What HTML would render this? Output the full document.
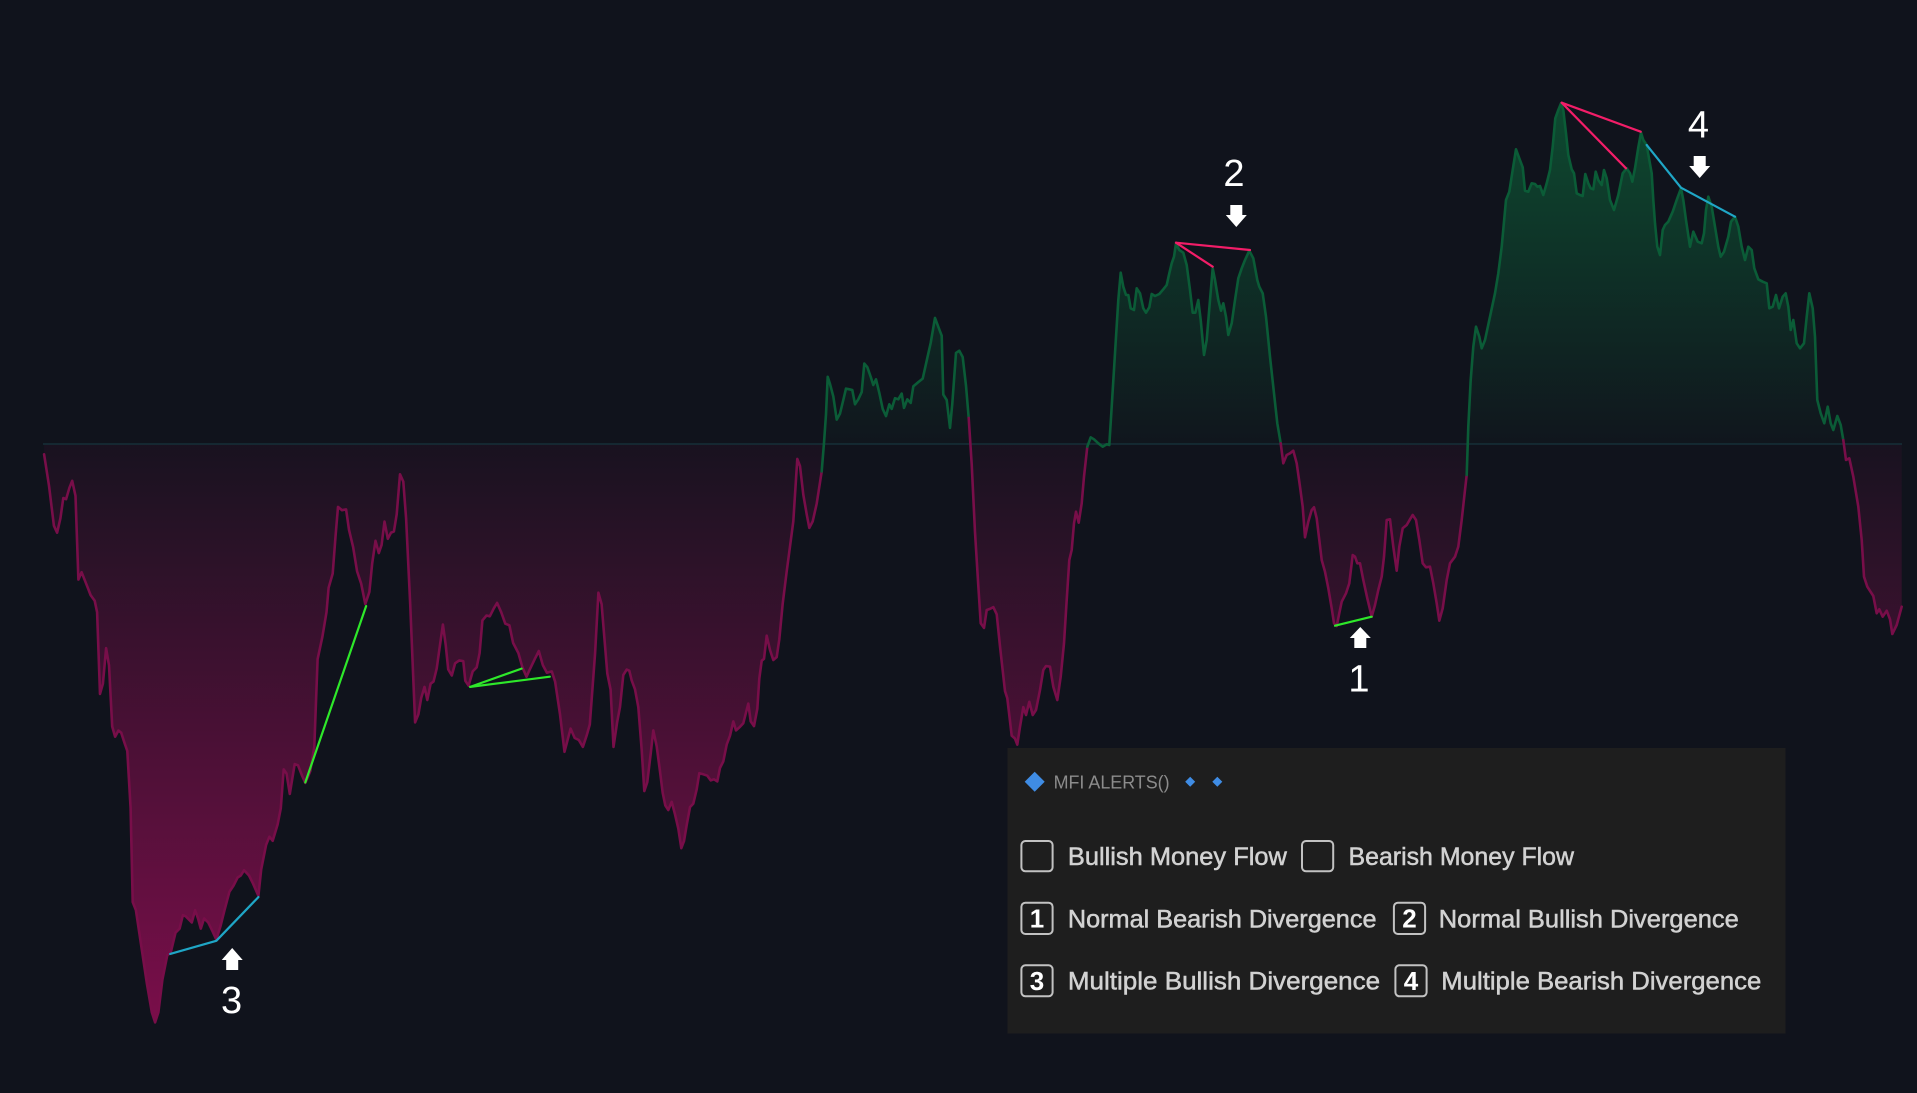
<!DOCTYPE html>
<html><head><meta charset="utf-8"><style>
html,body{margin:0;padding:0;background:#10131c;width:1917px;height:1093px;overflow:hidden}
svg{display:block}
</style></head><body>
<svg width="1917" height="1093" viewBox="0 0 1917 1093" xmlns="http://www.w3.org/2000/svg">
<defs>
<linearGradient id="pg" gradientUnits="userSpaceOnUse" x1="0" y1="444" x2="0" y2="1025">
<stop offset="0" stop-color="#7a0e4a" stop-opacity="0.08"/>
<stop offset="1" stop-color="#7a0e4a" stop-opacity="1"/>
</linearGradient>
<linearGradient id="gg" gradientUnits="userSpaceOnUse" x1="0" y1="444" x2="0" y2="103">
<stop offset="0" stop-color="#0d4a30" stop-opacity="0.05"/>
<stop offset="1" stop-color="#0d4a30" stop-opacity="1"/>
</linearGradient>
<clipPath id="below"><rect x="0" y="444" width="1917" height="649"/></clipPath>
<clipPath id="above"><rect x="0" y="0" width="1917" height="444"/></clipPath>
<path id="area" d="M44.1,444 L44.1,454.3 49,485.7 53.9,525.7 57.1,532.7 60.4,518.4 63.3,498 66.1,499.2 69.4,487.8 72.2,480.8 75.5,495.9 78.4,579.6 81.6,572.2 87.8,587.8 90.6,595.1 94.7,600.8 97.1,612.2 100,693.9 102.9,683.7 106.1,648.2 109,665.3 112.2,726.5 115.1,736.7 118.4,730.6 121.2,732.7 124.5,742.9 127.3,751 130.6,808.2 132.7,902 135.9,910.2 140.8,942.9 146.9,983.7 151.8,1012.2 155.1,1022.4 158.4,1012.2 162.4,979.6 167.3,955.1 170.6,953.1 175.5,932.7 179.6,928.6 182.9,915.1 185.7,916.3 191.8,922.4 195.1,910.2 198,918.4 200.8,928.6 204.1,918.4 208.2,922.4 212.2,930.6 216.3,939.6 220.4,926.5 224.5,910.2 229.4,891.8 233.5,885.7 237.6,877.6 240.8,875.5 244.1,870.2 249,875.5 253.1,883.7 258.4,895.9 261.2,869.4 266.1,844.9 269.4,836.7 272.7,840.8 277.6,824.5 280.8,808.2 283.7,769.4 286.5,773.5 289.8,793.9 294.7,764.1 298,765.3 302,775.5 305.3,782.9 310.2,771.4 314.3,746.9 317.6,659.2 322.4,636.7 326.5,612.2 328.6,587.8 332.7,573.5 335.5,536.7 338,506.9 342,510.2 346.1,509.4 349,529.8 353.1,546.9 357.1,571.4 361.2,583.7 365.3,604.1 369.4,591.8 372.2,563.3 375.5,540.8 378.8,553.1 381.6,544.9 384.5,521.6 387.8,538.8 391,532.7 393.9,531.4 396.7,514.3 400,474.3 403.3,481.6 406.1,518.4 410.2,604.1 415.1,722.4 418.4,714.3 421.2,698 424.5,686.9 427.3,700 430.6,683.7 433.5,681.6 436.7,668.6 440,644.9 442.9,624.5 445.7,644.9 448.2,669.4 451.8,675.5 455.1,663.3 459.2,660.4 463.3,661.2 465.3,680.8 468.6,685.7 472.7,671.4 476.7,667.3 479.6,653.1 482.4,620.4 486.5,615.5 489.8,616.3 493.9,608.2 497.1,602.9 501.2,612.2 505.3,623.7 509.4,625.3 513.1,642.9 518.4,653.1 522.4,667.3 526.5,676.7 529.8,669.4 534.7,659.2 538.8,651 542.9,665.3 546.9,672.7 551.8,671.4 555.1,681.6 560,714.3 564.5,751.8 570.6,728.6 574.7,738 578.8,740 582.9,746.9 586.9,734.7 589.8,724.5 595.1,653.1 598.4,592.7 601.6,604.1 607.3,673.5 610.6,689.8 613.5,746.9 617.1,722.4 620,707 623.3,675 626.7,669.6 629.3,670.7 631.7,680.4 635,689.3 638.3,707.1 641.7,750 644.3,791.1 647.3,782.1 650.7,753.6 653.3,730.4 656.7,746.4 660,771.4 662.7,792.9 665.3,805.4 668.3,810 671.7,801.8 675,814.3 678.3,828.6 681.3,848.2 684,841.1 686.7,825 690,807.1 693.3,803.6 696.7,789.3 699.3,773.2 703.3,774.3 707.3,775.7 710.7,780.4 714,779.3 717.3,781.4 720,767.9 723.3,761.4 726.7,744.6 730,735.7 733.3,721.4 736,730.4 740,726.8 743.3,723.2 748.3,703.6 750.7,721.4 754,726.1 757.3,708.9 759.3,678.6 761.7,660.7 764,658.9 766.7,635.7 770,650 773.3,660 776.7,657.1 779.3,639.3 782.7,603.6 786.7,571.4 790,546.4 793.3,521.4 797.3,458.9 800,466.1 803.3,494.6 806.7,514.3 809.3,527.9 812.7,521.4 816.7,503.6 821.7,471.4 824,442.9 826,414.3 827.7,376.8 830,383.9 833.3,396.4 836.7,419.6 840,413.6 843.3,400 846,388.6 849.3,389.3 852.3,390 855,404.3 858.3,399.3 861.7,392.1 864.3,363.6 867.3,367.1 870.7,376.8 873.3,385 876,379.3 879.3,392.9 882.7,408.9 886,416.1 889.3,404.3 891.7,408.9 895,398.2 898.3,399.3 901.7,393.6 904,407.9 907.3,399.3 910.7,402.9 913.3,386.4 918.3,382.1 922.7,378.6 926.7,360.7 930.7,342.9 935,317.9 938.3,326.8 941.7,335.7 943.3,394.6 946.7,400 950,427.9 952.3,403.6 956,352.9 959.3,350.7 962.7,357.1 966,385.7 968.7,417.9 971.7,464.3 975,532.1 978.3,585.7 980.7,623.2 984,627.9 986.7,610 990,608.9 993.3,607.1 996.7,614.3 1000,646.4 1005,691.1 1007.3,698.2 1011.7,735.7 1015,738.6 1017.3,744.6 1020,726.8 1023.3,707.1 1026,715 1029.3,701.8 1032.7,715 1036,710 1040,690 1043.3,670 1046,666 1050,666.7 1053.3,686.7 1057.3,700 1060.7,676.7 1064,643.3 1066.7,600 1069.3,560 1071.7,550 1074,523.3 1076,511.7 1078.7,522.7 1081.7,503.3 1084,476.7 1087.3,446.7 1090.7,437.3 1094,439.3 1098.3,443.3 1102.7,446.7 1106.7,444.3 1109.3,445 1111.7,406.7 1115,353.3 1118.3,300 1120.7,272.7 1123.3,286.7 1126,295 1128.3,295 1130.7,308.3 1134,310 1136.7,288.3 1140,293.3 1143.3,308.3 1146,312.7 1149.3,307.3 1151.7,294 1155,296 1159.3,294 1163.3,289.3 1166.7,285 1169.3,273.3 1171.7,263.3 1174,256.7 1176,243.3 1179.3,250 1183.3,252.7 1186.7,265 1190,290 1192.7,312.7 1195.3,312.7 1198.3,300 1200.7,320 1204,355 1206.7,340 1210,300 1212.7,268.3 1215,280 1218.3,300 1221,310.7 1223.3,303.3 1226,316.7 1228.3,335 1231.7,323.3 1235,300 1238.3,278.3 1241.7,268.3 1245,260 1249.3,250.7 1253.3,258.3 1257.3,280 1259.3,286.7 1262.7,293.3 1266,316.7 1270,356.7 1274,393.3 1277.3,423.3 1280.7,443.3 1283.3,463.3 1286.7,455 1290,453.3 1293.3,450.7 1296.7,463.3 1300,486.7 1302.7,506.7 1305,537.3 1308.3,521.7 1311.7,510 1314,507.3 1316.7,518.3 1319.3,540 1321.7,560 1325,571.7 1328.3,588.3 1331.7,608.3 1334,623.3 1336.7,626 1339.3,613.3 1341.7,601.7 1346,593.3 1349.3,583.3 1352.7,555 1355,556.7 1357.3,563.3 1360,563.3 1363.3,580 1367.3,598.3 1371.7,616.7 1375,605 1378.3,590 1381.7,576.7 1384,556.7 1386.7,520 1390,519.3 1393.3,546.7 1396.7,570.7 1399.3,546.7 1402.7,528.3 1406.7,525 1410,519.3 1412.7,515 1416,520 1419.3,540 1422.7,563.3 1426,567.3 1430,566.7 1433.3,583.3 1436.7,603.3 1439.3,620.7 1442.7,608.3 1446.7,580 1450,563.3 1455,556.7 1458.3,546.7 1461.7,520 1465,490 1466.7,475 1468.3,426.7 1470.7,380 1473.3,346.7 1476,326.7 1479.3,336.7 1481.7,348.3 1485,340 1490,316.7 1495,293.3 1498.3,273.3 1501.7,246.7 1506,200 1509.3,191.7 1512.7,170 1516,149.3 1519.3,158.3 1522.7,167.3 1525,190.7 1528.3,191.7 1531.7,183.3 1535,184 1537.3,186.7 1540,186 1543.3,195 1546.7,183.3 1550,170 1552.7,146.7 1555.3,118.3 1558.3,110 1561,103.3 1563.3,110 1566,133.3 1568.3,155 1571.7,169.3 1574,173.3 1576.7,193.3 1580,195 1582.7,196 1585.3,174 1588.3,183.3 1590.7,188.3 1593.3,189.3 1595.7,171.7 1598.3,180 1601.7,185 1604,170 1606.7,178.3 1610,200 1614,210 1618.3,195 1622.7,173.3 1626.7,168.3 1630,173.3 1632.3,181.7 1635,168.3 1638.3,147.3 1641,132.7 1643.3,140 1646.7,145 1649.3,160 1651.7,173.3 1653.3,200 1655,223.3 1657.3,246.7 1660,255 1662.7,230 1665,225 1668.3,221.7 1672.7,211.7 1676.7,200 1681,188.3 1683.3,200 1686,220 1690,246.7 1693.3,231.7 1697.7,241.7 1701.7,243.3 1704,233.3 1706,210 1708.3,196.7 1711.7,206.7 1715,226.7 1718.3,246.7 1720.7,256.7 1724,251.7 1728.3,236.7 1731,221.7 1735,216.7 1738.3,226.7 1741.7,246.7 1745,260 1748.3,246.7 1751.7,250 1754.3,268.3 1758.3,279.3 1762.7,281.7 1766.7,283.3 1769.3,308.3 1772.7,306.7 1776,295 1779,308.3 1782.7,296.7 1785.7,293.3 1788.3,306.7 1790.7,330 1793.3,320 1796.7,343.3 1800,348.3 1804,343.3 1806.7,316.7 1809.3,293.3 1812.7,308.3 1815,336.7 1817.3,400 1820.7,413.3 1824.3,423.3 1827.7,406.7 1830.7,423.3 1833.3,430 1837.3,416 1840.7,425 1843.3,440 1846,460 1849.3,458.3 1853.3,476.7 1858.3,506.7 1861.7,540 1864,576.7 1867.3,586.7 1873.3,596 1876.7,613.3 1879.3,609.3 1882.7,616.7 1886.7,610.7 1890,619.3 1892.3,634 1896.7,625 1901.7,606.7 L1901.7,444 Z"/>
</defs>

<use href="#area" fill="url(#pg)" clip-path="url(#below)"/>
<use href="#area" fill="url(#gg)" clip-path="url(#above)"/>

<line x1="43" y1="444" x2="1902" y2="444" stroke="#163038" stroke-width="1.5"/>

<g fill="none" stroke-width="2.6" stroke-linejoin="round" stroke-linecap="round">
<polyline stroke="#780e49" points="44.1,454.3 49,485.7 53.9,525.7 57.1,532.7 60.4,518.4 63.3,498 66.1,499.2 69.4,487.8 72.2,480.8 75.5,495.9 78.4,579.6 81.6,572.2 87.8,587.8 90.6,595.1 94.7,600.8 97.1,612.2 100,693.9 102.9,683.7 106.1,648.2 109,665.3 112.2,726.5 115.1,736.7 118.4,730.6 121.2,732.7 124.5,742.9 127.3,751 130.6,808.2 132.7,902 135.9,910.2 140.8,942.9 146.9,983.7 151.8,1012.2 155.1,1022.4 158.4,1012.2 162.4,979.6 167.3,955.1 170.6,953.1 175.5,932.7 179.6,928.6 182.9,915.1 185.7,916.3 191.8,922.4 195.1,910.2 198,918.4 200.8,928.6 204.1,918.4 208.2,922.4 212.2,930.6 216.3,939.6 220.4,926.5 224.5,910.2 229.4,891.8 233.5,885.7 237.6,877.6 240.8,875.5 244.1,870.2 249,875.5 253.1,883.7 258.4,895.9 261.2,869.4 266.1,844.9 269.4,836.7 272.7,840.8 277.6,824.5 280.8,808.2 283.7,769.4 286.5,773.5 289.8,793.9 294.7,764.1 298,765.3 302,775.5 305.3,782.9 310.2,771.4 314.3,746.9 317.6,659.2 322.4,636.7 326.5,612.2 328.6,587.8 332.7,573.5 335.5,536.7 338,506.9 342,510.2 346.1,509.4 349,529.8 353.1,546.9 357.1,571.4 361.2,583.7 365.3,604.1 369.4,591.8 372.2,563.3 375.5,540.8 378.8,553.1 381.6,544.9 384.5,521.6 387.8,538.8 391,532.7 393.9,531.4 396.7,514.3 400,474.3 403.3,481.6 406.1,518.4 410.2,604.1 415.1,722.4 418.4,714.3 421.2,698 424.5,686.9 427.3,700 430.6,683.7 433.5,681.6 436.7,668.6 440,644.9 442.9,624.5 445.7,644.9 448.2,669.4 451.8,675.5 455.1,663.3 459.2,660.4 463.3,661.2 465.3,680.8 468.6,685.7 472.7,671.4 476.7,667.3 479.6,653.1 482.4,620.4 486.5,615.5 489.8,616.3 493.9,608.2 497.1,602.9 501.2,612.2 505.3,623.7 509.4,625.3 513.1,642.9 518.4,653.1 522.4,667.3 526.5,676.7 529.8,669.4 534.7,659.2 538.8,651 542.9,665.3 546.9,672.7 551.8,671.4 555.1,681.6 560,714.3 564.5,751.8 570.6,728.6 574.7,738 578.8,740 582.9,746.9 586.9,734.7 589.8,724.5 595.1,653.1 598.4,592.7 601.6,604.1 607.3,673.5 610.6,689.8 613.5,746.9 617.1,722.4 620,707 623.3,675 626.7,669.6 629.3,670.7 631.7,680.4 635,689.3 638.3,707.1 641.7,750 644.3,791.1 647.3,782.1 650.7,753.6 653.3,730.4 656.7,746.4 660,771.4 662.7,792.9 665.3,805.4 668.3,810 671.7,801.8 675,814.3 678.3,828.6 681.3,848.2 684,841.1 686.7,825 690,807.1 693.3,803.6 696.7,789.3 699.3,773.2 703.3,774.3 707.3,775.7 710.7,780.4 714,779.3 717.3,781.4 720,767.9 723.3,761.4 726.7,744.6 730,735.7 733.3,721.4 736,730.4 740,726.8 743.3,723.2 748.3,703.6 750.7,721.4 754,726.1 757.3,708.9 759.3,678.6 761.7,660.7 764,658.9 766.7,635.7 770,650 773.3,660 776.7,657.1 779.3,639.3 782.7,603.6 786.7,571.4 790,546.4 793.3,521.4 797.3,458.9 800,466.1 803.3,494.6 806.7,514.3 809.3,527.9 812.7,521.4 816.7,503.6 821.7,471.4"/>
<polyline stroke="#0b5c37" points="821.7,471.4 824,442.9 826,414.3 827.7,376.8 830,383.9 833.3,396.4 836.7,419.6 840,413.6 843.3,400 846,388.6 849.3,389.3 852.3,390 855,404.3 858.3,399.3 861.7,392.1 864.3,363.6 867.3,367.1 870.7,376.8 873.3,385 876,379.3 879.3,392.9 882.7,408.9 886,416.1 889.3,404.3 891.7,408.9 895,398.2 898.3,399.3 901.7,393.6 904,407.9 907.3,399.3 910.7,402.9 913.3,386.4 918.3,382.1 922.7,378.6 926.7,360.7 930.7,342.9 935,317.9 938.3,326.8 941.7,335.7 943.3,394.6 946.7,400 950,427.9 952.3,403.6 956,352.9 959.3,350.7 962.7,357.1 966,385.7 968.7,417.9"/>
<polyline stroke="#780e49" points="968.7,417.9 971.7,464.3 975,532.1 978.3,585.7 980.7,623.2 984,627.9 986.7,610 990,608.9 993.3,607.1 996.7,614.3 1000,646.4 1005,691.1 1007.3,698.2 1011.7,735.7 1015,738.6 1017.3,744.6 1020,726.8 1023.3,707.1 1026,715 1029.3,701.8 1032.7,715 1036,710 1040,690 1043.3,670 1046,666 1050,666.7 1053.3,686.7 1057.3,700 1060.7,676.7 1064,643.3 1066.7,600 1069.3,560 1071.7,550 1074,523.3 1076,511.7 1078.7,522.7 1081.7,503.3 1084,476.7 1087.3,446.7"/>
<polyline stroke="#0b5c37" points="1087.3,446.7 1090.7,437.3 1094,439.3 1098.3,443.3 1102.7,446.7 1106.7,444.3 1109.3,445 1111.7,406.7 1115,353.3 1118.3,300 1120.7,272.7 1123.3,286.7 1126,295 1128.3,295 1130.7,308.3 1134,310 1136.7,288.3 1140,293.3 1143.3,308.3 1146,312.7 1149.3,307.3 1151.7,294 1155,296 1159.3,294 1163.3,289.3 1166.7,285 1169.3,273.3 1171.7,263.3 1174,256.7 1176,243.3 1179.3,250 1183.3,252.7 1186.7,265 1190,290 1192.7,312.7 1195.3,312.7 1198.3,300 1200.7,320 1204,355 1206.7,340 1210,300 1212.7,268.3 1215,280 1218.3,300 1221,310.7 1223.3,303.3 1226,316.7 1228.3,335 1231.7,323.3 1235,300 1238.3,278.3 1241.7,268.3 1245,260 1249.3,250.7 1253.3,258.3 1257.3,280 1259.3,286.7 1262.7,293.3 1266,316.7 1270,356.7 1274,393.3 1277.3,423.3 1280.7,443.3"/>
<polyline stroke="#780e49" points="1280.7,443.3 1283.3,463.3 1286.7,455 1290,453.3 1293.3,450.7 1296.7,463.3 1300,486.7 1302.7,506.7 1305,537.3 1308.3,521.7 1311.7,510 1314,507.3 1316.7,518.3 1319.3,540 1321.7,560 1325,571.7 1328.3,588.3 1331.7,608.3 1334,623.3 1336.7,626 1339.3,613.3 1341.7,601.7 1346,593.3 1349.3,583.3 1352.7,555 1355,556.7 1357.3,563.3 1360,563.3 1363.3,580 1367.3,598.3 1371.7,616.7 1375,605 1378.3,590 1381.7,576.7 1384,556.7 1386.7,520 1390,519.3 1393.3,546.7 1396.7,570.7 1399.3,546.7 1402.7,528.3 1406.7,525 1410,519.3 1412.7,515 1416,520 1419.3,540 1422.7,563.3 1426,567.3 1430,566.7 1433.3,583.3 1436.7,603.3 1439.3,620.7 1442.7,608.3 1446.7,580 1450,563.3 1455,556.7 1458.3,546.7 1461.7,520 1465,490 1466.7,475"/>
<polyline stroke="#0b5c37" points="1466.7,475 1468.3,426.7 1470.7,380 1473.3,346.7 1476,326.7 1479.3,336.7 1481.7,348.3 1485,340 1490,316.7 1495,293.3 1498.3,273.3 1501.7,246.7 1506,200 1509.3,191.7 1512.7,170 1516,149.3 1519.3,158.3 1522.7,167.3 1525,190.7 1528.3,191.7 1531.7,183.3 1535,184 1537.3,186.7 1540,186 1543.3,195 1546.7,183.3 1550,170 1552.7,146.7 1555.3,118.3 1558.3,110 1561,103.3 1563.3,110 1566,133.3 1568.3,155 1571.7,169.3 1574,173.3 1576.7,193.3 1580,195 1582.7,196 1585.3,174 1588.3,183.3 1590.7,188.3 1593.3,189.3 1595.7,171.7 1598.3,180 1601.7,185 1604,170 1606.7,178.3 1610,200 1614,210 1618.3,195 1622.7,173.3 1626.7,168.3 1630,173.3 1632.3,181.7 1635,168.3 1638.3,147.3 1641,132.7 1643.3,140 1646.7,145 1649.3,160 1651.7,173.3 1653.3,200 1655,223.3 1657.3,246.7 1660,255 1662.7,230 1665,225 1668.3,221.7 1672.7,211.7 1676.7,200 1681,188.3 1683.3,200 1686,220 1690,246.7 1693.3,231.7 1697.7,241.7 1701.7,243.3 1704,233.3 1706,210 1708.3,196.7 1711.7,206.7 1715,226.7 1718.3,246.7 1720.7,256.7 1724,251.7 1728.3,236.7 1731,221.7 1735,216.7 1738.3,226.7 1741.7,246.7 1745,260 1748.3,246.7 1751.7,250 1754.3,268.3 1758.3,279.3 1762.7,281.7 1766.7,283.3 1769.3,308.3 1772.7,306.7 1776,295 1779,308.3 1782.7,296.7 1785.7,293.3 1788.3,306.7 1790.7,330 1793.3,320 1796.7,343.3 1800,348.3 1804,343.3 1806.7,316.7 1809.3,293.3 1812.7,308.3 1815,336.7 1817.3,400 1820.7,413.3 1824.3,423.3 1827.7,406.7 1830.7,423.3 1833.3,430 1837.3,416 1840.7,425 1843.3,440"/>
<polyline stroke="#780e49" points="1843.3,440 1846,460 1849.3,458.3 1853.3,476.7 1858.3,506.7 1861.7,540 1864,576.7 1867.3,586.7 1873.3,596 1876.7,613.3 1879.3,609.3 1882.7,616.7 1886.7,610.7 1890,619.3 1892.3,634 1896.7,625 1901.7,606.7"/>
</g>

<!-- divergence lines -->
<g fill="none" stroke-width="2.2" stroke-linecap="round" stroke-linejoin="round">
<polyline stroke="#1fa6c6" points="170.2,953.9 216.3,940.8 258.4,897.1"/>
<line stroke="#2ee82a" x1="305.3" y1="782.4" x2="366.1" y2="606.1"/>
<line stroke="#2ee82a" x1="470.2" y1="686.9" x2="521.6" y2="668.6"/>
<line stroke="#2ee82a" x1="470.2" y1="686.9" x2="549.8" y2="676.7"/>
<line stroke="#f21d68" x1="1176" y1="242.7" x2="1250" y2="250"/>
<line stroke="#f21d68" x1="1176" y1="242.7" x2="1212.7" y2="266.7"/>
<line stroke="#2ee82a" x1="1335" y1="625.7" x2="1371.7" y2="616.7"/>
<line stroke="#f21d68" x1="1561.7" y1="102.7" x2="1640.7" y2="131.7"/>
<line stroke="#f21d68" x1="1561.7" y1="102.7" x2="1626" y2="168.3"/>
<polyline stroke="#1fa6c6" points="1646.7,145 1681,187.7 1735,216.7"/>
</g>

<!-- arrows -->
<g fill="#ffffff">
<polygon points="1230.3,205 1242.3,205 1242.3,215 1246.8,215 1236.3,227 1225.8,215 1230.3,215"/>
<polygon points="1693.7,156 1705.7,156 1705.7,166 1710.2,166 1699.7,178 1689.2,166 1693.7,166"/>
<polygon points="1354.3,648 1366.3,648 1366.3,638 1370.8,638 1360.3,627 1349.8,638 1354.3,638"/>
<polygon points="226.2,970 238.2,970 238.2,960 242.7,960 232.2,948 221.7,960 226.2,960"/>
</g>
<g fill="#ffffff" font-family="'Liberation Sans', 'DejaVu Sans', sans-serif" font-size="38" text-anchor="middle">
<text x="1359" y="691.5">1</text>
<text x="1234" y="186">2</text>
<text x="231.6" y="1013">3</text>
<text x="1698.5" y="137.3">4</text>
</g>

<!-- panel -->
<rect x="1007.5" y="748" width="778" height="285.5" fill="#1e1e1e"/>
<polygon points="1034.7,771.7 1044.7,781.7 1034.7,791.7 1024.7,781.7" fill="#3f8ce4"/>
<polygon points="1190.2,776.7 1195.2,781.7 1190.2,786.7 1185.2,781.7" fill="#3f8ce4"/>
<polygon points="1217.3,776.7 1222.3,781.7 1217.3,786.7 1212.3,781.7" fill="#3f8ce4"/>
<text x="1053.6" y="788.5" font-family="'Liberation Sans', sans-serif" font-size="18" fill="#8c8c8c" textLength="116" lengthAdjust="spacingAndGlyphs">MFI ALERTS()</text>

<g fill="none" stroke="#c2c2c2" stroke-width="2">
<rect x="1021.4" y="841" width="31.2" height="30.3" rx="4"/>
<rect x="1302" y="841" width="31.2" height="30.3" rx="4"/>
<rect x="1021.4" y="902.7" width="31.2" height="31.3" rx="4"/>
<rect x="1393.9" y="902.7" width="31.2" height="31.3" rx="4"/>
<rect x="1021.4" y="965.3" width="31.2" height="31" rx="4"/>
<rect x="1395.4" y="965.3" width="31.2" height="31" rx="4"/>
</g>
<g fill="#ffffff" font-family="'Liberation Sans', sans-serif" font-size="26" font-weight="bold" text-anchor="middle">
<text x="1037" y="927.5">1</text>
<text x="1409.5" y="927.5">2</text>
<text x="1037" y="990">3</text>
<text x="1411" y="990">4</text>
</g>
<g fill="#d2d2d2" stroke="#d2d2d2" stroke-width="0.5" font-family="'Liberation Sans', sans-serif" font-size="25">
<text x="1067.9" y="865" textLength="219" lengthAdjust="spacingAndGlyphs">Bullish Money Flow</text>
<text x="1348.5" y="865" textLength="225.5" lengthAdjust="spacingAndGlyphs">Bearish Money Flow</text>
<text x="1067.9" y="927.3" textLength="308.6" lengthAdjust="spacingAndGlyphs">Normal Bearish Divergence</text>
<text x="1438.8" y="927.3" textLength="300" lengthAdjust="spacingAndGlyphs">Normal Bullish Divergence</text>
<text x="1067.9" y="989.3" textLength="312.2" lengthAdjust="spacingAndGlyphs">Multiple Bullish Divergence</text>
<text x="1441.3" y="989.3" textLength="320" lengthAdjust="spacingAndGlyphs">Multiple Bearish Divergence</text>
</g>
</svg>
</body></html>
